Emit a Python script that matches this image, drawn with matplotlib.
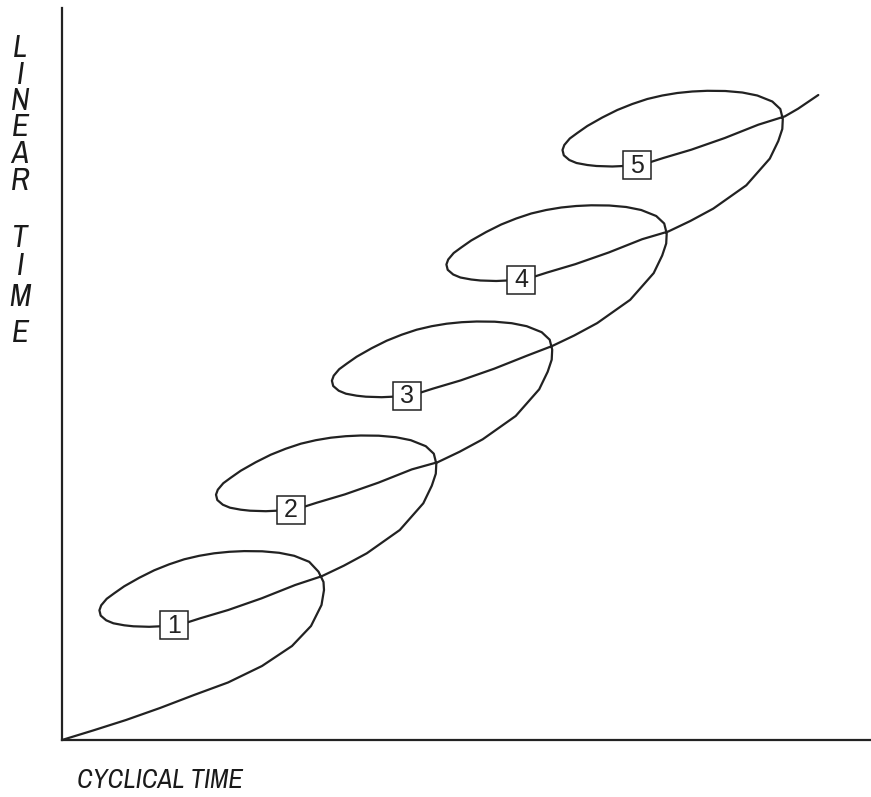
import matplotlib
matplotlib.use("Agg")
import matplotlib.pyplot as plt
from matplotlib import font_manager
from matplotlib.font_manager import FontProperties

# ---------------- data (units: axis-relative) ----------------
BOX_LABELS = ["1", "2", "3", "4", "5"]
BOX_X = [112.2, 228.8, 344.7, 459.2, 575.3]
BOX_Y = [114.7, 230.3, 344.3, 460.5, 575.0]

# one turn of the spiral, traced relative to the labelled box of that turn
LOOP_DX = [31, 53, 76, 109, 132.5, 141, 145, 145.5, 143, 135, 120,
           105, 88, 70, 55, 40, 25, 10, -5, -20, -35,
           -50, -60, -67.5, -73, -74.8, -73.5, -68, -60.8, -50, -40.8,
           -25, -14, 0, 13.5, 26, 54, 87.5, 121, 147.5]
LOOP_DY = [-66.5, -56, -43.6, -20.3, 6.4, 24, 36, 46, 56, 63.5, 69.5,
           72.5, 74, 74.2, 73.5, 72, 69.5, 66, 61, 55, 47.5,
           39, 32, 26.5, 20, 15, 9.7, 5, 2, 0, -1,
           -1.5, -1, 0, 3, 7, 15.3, 27, 40.3, 48.6]

# start of the curve (from the origin up to the first turn)
LEAD_X = [0, 31, 64, 98, 132, 166, 200, 230, 249, 259.5, 262, 261.5, 256.5]
LEAD_Y = [0, 9.5, 20, 32, 45, 57.5, 74, 94, 114, 135, 150, 158, 168.3]
LEAD_JOIN = 9  # index in the loop trace where the first turn continues

# end of the curve after the last turn (relative to last box)
TAIL_DX = [160.8, 181]
TAIL_DY = [56.3, 70]

X_LABEL = "CYCLICAL TIME"
Y_LETTERS = list("LINEAR") + list("TIME")

# ---------------- figure ----------------
W, H = 871, 797
fig = plt.figure(figsize=(W / 100, H / 100), dpi=100)
ax_left, ax_bottom, ax_right, ax_top = 62, 740, 871, 8
ax = fig.add_axes([ax_left / W, 1 - ax_bottom / H,
                   (ax_right - ax_left) / W, (ax_bottom - ax_top) / H])
ax.set_xlim(0, ax_right - ax_left)
ax.set_ylim(0, ax_bottom - ax_top)
for s in ["top", "right"]:
    ax.spines[s].set_visible(False)
for s in ["left", "bottom"]:
    ax.spines[s].set_linewidth(1.6)
    ax.spines[s].set_color("#222222")
ax.set_xticks([])
ax.set_yticks([])

# build curve
xs = list(LEAD_X)
ys = list(LEAD_Y)
n = len(BOX_X)
for k in range(n):
    start = LEAD_JOIN if k == 0 else 0
    stop = len(LOOP_DX) if k == n - 1 else len(LOOP_DX) - 1
    for i in range(start, stop):
        xs.append(BOX_X[k] + LOOP_DX[i])
        ys.append(BOX_Y[k] + LOOP_DY[i])
for dx, dy in zip(TAIL_DX, TAIL_DY):
    xs.append(BOX_X[-1] + dx)
    ys.append(BOX_Y[-1] + dy)

ax.plot(xs, ys, color="#222222", lw=1.6, solid_joinstyle="round",
        solid_capstyle="round", zorder=2, clip_on=False)

# boxes
ax.plot(BOX_X, BOX_Y, linestyle="none", marker="s", markersize=19.5,
        markerfacecolor="white", markeredgecolor="#222222", markeredgewidth=1.1,
        zorder=3)
for lab, bx, by in zip(BOX_LABELS, BOX_X, BOX_Y):
    ax.text(bx, by - 0.5, lab, ha="center", va="center", fontsize=18,
            family="Liberation Sans", color="#222222", zorder=4)


# pick a condensed, regular-weight italic face if one is installed
def _is_regular(w):
    return w in (400, 500, "normal", "regular", "book", "medium")


label_fp = FontProperties(family="Liberation Sans", style="italic")
best = None
for f in font_manager.fontManager.ttflist:
    tag = (f.name + " " + f.fname).lower()
    if f.style not in ("italic", "oblique") or not _is_regular(f.weight):
        continue
    if "bold" in tag:
        continue
    if "narrow" in tag:
        best = f
        break
    if "condensed" in tag and best is None:
        best = f
if best is not None:
    label_fp = FontProperties(fname=best.fname)

# axis labels
xl = fig.text(77 / W, 1 - 781 / H, X_LABEL, ha="left", va="center",
              fontproperties=label_fp, color="#1a1a1a")
xl.set_fontsize(22)
fig.canvas.draw()
wpx = xl.get_window_extent().width
xl.set_fontsize(min(23, 22 * 166 / wpx))

y_pos = [48, 74.5, 101, 127.5, 154, 180.5, 238, 266, 297, 333]
for ch, yp in zip(Y_LETTERS, y_pos):
    t = fig.text(20 / W, 1 - yp / H, ch, ha="center", va="center",
                 fontproperties=label_fp, color="#1a1a1a")
    t.set_fontsize(22.5)

fig.savefig("out.png", dpi=100, facecolor="white")
